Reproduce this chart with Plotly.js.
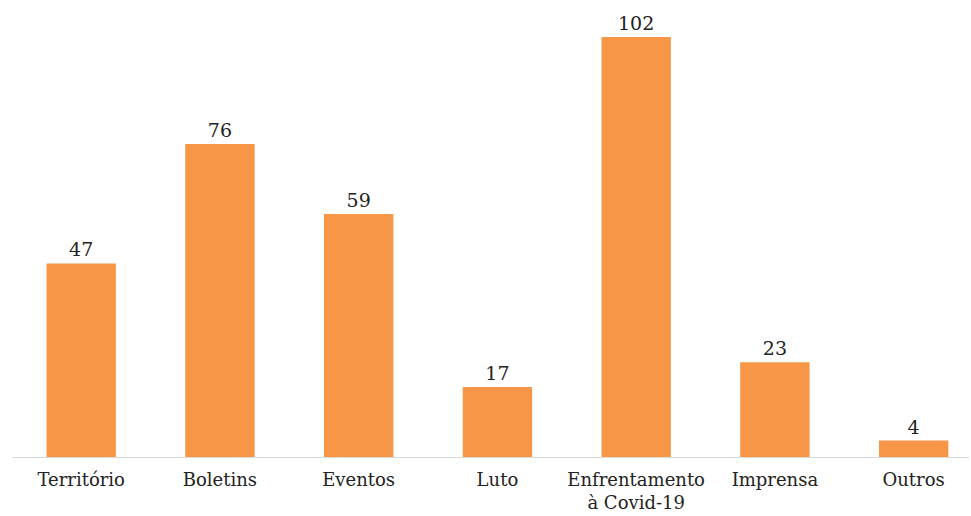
<!DOCTYPE html>
<html>
<head>
<meta charset="utf-8">
<script src="https://cdn.plot.ly/plotly-3.0.1.min.js"></script>
<style>html,body{margin:0;padding:0;background:#fff;}#chart{width:971px;height:516px;}</style>
</head>
<body>
<div id="chart"></div>
<script>
const categories = ["Território", "Boletins", "Eventos", "Luto", "Enfrentamento<br>à Covid-19", "Imprensa", "Outros"];
const values = [47, 76, 59, 17, 102, 23, 4];

const serif = "DejaVu Serif";

const trace = {
  type: "bar",
  x: categories,
  y: values,
  marker: {color: "#F79646"},
  text: values.map(String),
  textposition: "outside",
  cliponaxis: false,
  textfont: {family: serif, size: 19, color: "#222"},
  hoverinfo: "x+y"
};

const layout = {
  width: 971,
  height: 516,
  margin: {l: 12, r: 2, t: 20, b: 59},
  paper_bgcolor: "#fff",
  plot_bgcolor: "#fff",
  bargap: 0.5,
  showlegend: false,
  font: {family: serif, size: 18, color: "#222"},
  xaxis: {
    type: "category",
    range: [-0.4987, 6.399],
    showline: true,
    linecolor: "#d9d9d9",
    linewidth: 1,
    ticks: "",
    ticklabelstandoff: 6,
    showgrid: false,
    zeroline: false,
    tickfont: {family: serif, size: 18, color: "#222"},
    fixedrange: true
  },
  yaxis: {
    range: [0, 106.12],
    showticklabels: false,
    showgrid: false,
    zeroline: false,
    showline: false,
    ticks: "",
    fixedrange: true
  }
};

Plotly.newPlot("chart", [trace], layout, {displayModeBar: false, staticPlot: true});
</script>
</body>
</html>
